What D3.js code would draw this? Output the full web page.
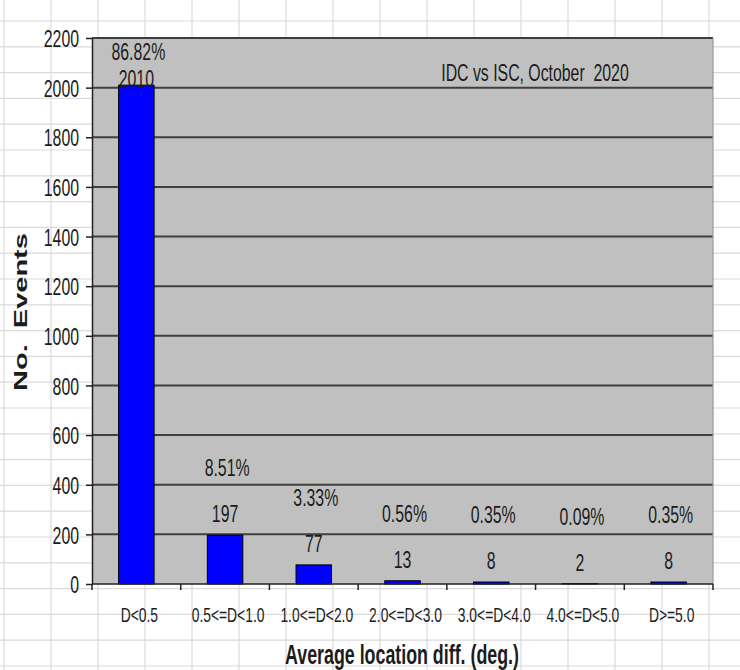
<!DOCTYPE html>
<html>
<head>
<meta charset="utf-8">
<script src="https://cdn.jsdelivr.net/npm/d3@7"></script>
<style>
  html, body { margin: 0; padding: 0; background: #ffffff; }
  svg { display: block; }
  text { font-family: "Liberation Sans", Arial, sans-serif; fill: #1c1c1c; }
</style>
</head>
<body>
<svg id="chart" width="740" height="670"></svg>
<script>
// Event counts per location-difference class
const categories = ["D<0.5", "0.5<=D<1.0", "1.0<=D<2.0", "2.0<=D<3.0", "3.0<=D<4.0", "4.0<=D<5.0", "D>=5.0"];
const counts = [2010, 197, 77, 13, 8, 2, 8];
const percentLabels = ["86.82%", "8.51%", "3.33%", "0.56%", "0.35%", "0.09%", "0.35%"];
const yTicks = [0, 200, 400, 600, 800, 1000, 1200, 1400, 1600, 1800, 2000, 2200];
const chartTitle = "IDC vs ISC, October  2020";
const xTitle = "Average location diff. (deg.)";
const yTitle = "No.  Events";

const W = 740, H = 670;
const margin = { top: 38, right: 27, bottom: 86, left: 92 };
const SX = 0.66; // horizontal squeeze applied to all lettering

const svg = d3.select("#chart");

// worksheet cell grid behind the chart
const sheet = svg.append("g").attr("stroke", "#dadada").attr("stroke-width", 1.2);
sheet.selectAll("line.v").data(d3.range(0, 17)).join("line")
  .attr("x1", k => 4 + 47 * k).attr("x2", k => 4 + 47 * k)
  .attr("y1", 0).attr("y2", H);
sheet.selectAll("line.h").data(d3.range(-1, 27)).join("line")
  .attr("y1", k => 21 + 25.8 * k).attr("y2", k => 21 + 25.8 * k)
  .attr("x1", 0).attr("x2", W);

const x = d3.scaleBand()
  .domain(categories)
  .range([margin.left, W - margin.right])
  .paddingInner(0.6)
  .paddingOuter(0.3);

const y = d3.scaleLinear()
  .domain([0, d3.max(yTicks)])
  .range([H - margin.bottom, margin.top]);

const plotL = margin.left, plotR = W - margin.right;
const plotT = margin.top, plotB = H - margin.bottom;

// plot area
svg.append("rect")
  .attr("x", plotL).attr("y", plotT)
  .attr("width", plotR - plotL).attr("height", plotB - plotT)
  .attr("fill", "#c0c0c0");

// horizontal gridlines
svg.append("g").selectAll("line").data(yTicks.filter(t => t > 0)).join("line")
  .attr("x1", plotL).attr("x2", plotR)
  .attr("y1", d => y(d)).attr("y2", d => y(d))
  .attr("stroke", "#3f3f3f").attr("stroke-width", 2);

// right border
svg.append("line")
  .attr("x1", plotR).attr("x2", plotR).attr("y1", plotT).attr("y2", plotB)
  .attr("stroke", "#9a9a9a").attr("stroke-width", 1.2);

// bars
svg.append("g").selectAll("rect").data(counts).join("rect")
  .attr("x", (d, i) => x(categories[i]))
  .attr("y", d => y(d))
  .attr("width", x.bandwidth())
  .attr("height", d => y(0) - y(d))
  .attr("fill", "#0000ff")
  .attr("stroke", "#000000")
  .attr("stroke-width", 1);

// y axis
const yAxis = svg.append("g")
  .attr("transform", `translate(${plotL},0)`)
  .call(d3.axisLeft(y).tickValues(yTicks).tickSize(6).tickSizeOuter(0).tickFormat(d3.format("d")));
yAxis.select(".domain").attr("stroke", "#222").attr("stroke-width", 1.5);
yAxis.selectAll(".tick line").attr("stroke", "#222").attr("stroke-width", 1.5);
yAxis.selectAll(".tick text")
  .attr("x", -13 / SX)
  .attr("dy", "0.36em")
  .attr("transform", `scale(${SX},1)`)
  .style("font-size", "24px")
  .attr("fill", "#1c1c1c");

// x axis with ticks on category boundaries
const xAxisG = svg.append("g");
xAxisG.append("line")
  .attr("x1", plotL).attr("x2", plotR).attr("y1", plotB).attr("y2", plotB)
  .attr("stroke", "#222").attr("stroke-width", 1.5);
const step = x.step();
const bounds = d3.range(0, categories.length + 1).map(i => plotL + i * step);
xAxisG.selectAll("line.tk").data(bounds).join("line")
  .attr("class", "tk")
  .attr("x1", d => d).attr("x2", d => d)
  .attr("y1", plotB).attr("y2", plotB + 6)
  .attr("stroke", "#222").attr("stroke-width", 1.5);

// category labels
svg.append("g").selectAll("text").data(categories).join("text")
  .attr("transform", d => `translate(${x(d) + x.bandwidth() / 2 + 3},622) scale(${SX},1)`)
  .attr("text-anchor", "middle")
  .style("font-size", "21px")
  .text(d => d);

// value labels above bars
const countY = d => Math.max(y(d) - 13, plotT + 49);
svg.append("g").selectAll("text").data(counts).join("text")
  .attr("transform", (d, i) => `translate(${x(categories[i]) + x.bandwidth() / 2},${countY(d)}) scale(${SX},1)`)
  .attr("text-anchor", "middle")
  .style("font-size", "24px")
  .text(d => d);

// share of all events
svg.append("g").selectAll("text").data(percentLabels).join("text")
  .attr("transform", (d, i) => `translate(${x(categories[i]) + x.bandwidth() / 2 + 2},${Math.max(countY(counts[i]) - 46, plotT + 22)}) scale(${SX},1)`)
  .attr("text-anchor", "middle")
  .style("font-size", "24px")
  .text(d => d);

// in-plot title
svg.append("text")
  .attr("transform", `translate(535,81) scale(${SX},1)`)
  .attr("text-anchor", "middle")
  .style("font-size", "24px")
  .style("white-space", "pre")
  .text(chartTitle);

// axis titles
svg.append("text")
  .attr("transform", `translate(402,664) scale(${SX},1)`)
  .attr("text-anchor", "middle")
  .style("font-size", "27px")
  .style("font-weight", "bold")
  .attr("fill", "#111")
  .text(xTitle);

svg.append("text")
  .attr("transform", `translate(27,312) scale(${SX},1) rotate(-90)`)
  .attr("text-anchor", "middle")
  .style("font-size", "29px")
  .style("font-weight", "bold")
  .style("white-space", "pre")
  .attr("fill", "#111")
  .text(yTitle);
</script>
</body>
</html>
